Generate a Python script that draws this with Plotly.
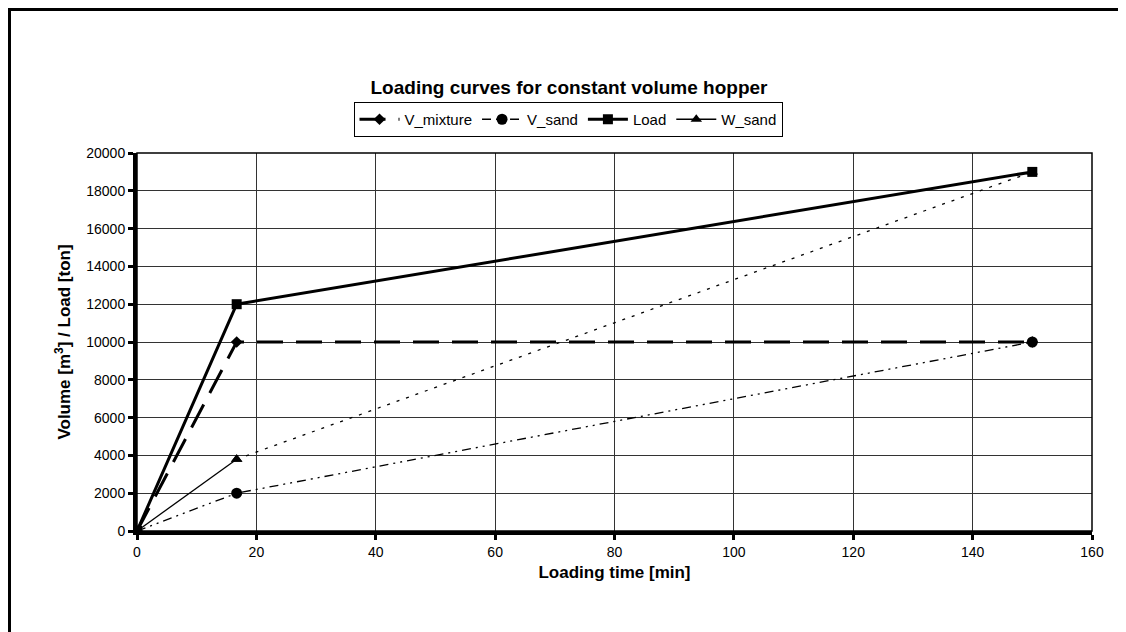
import plotly.graph_objects as go

# ---- data ----
time_min = [0, 16.7, 150]
v_mixture = [0, 10000, 10000]
v_sand = [0, 2000, 10000]
load = [0, 12000, 19000]
w_sand = [0, 3800, 19000]

x_ticks = [0, 20, 40, 60, 80, 100, 120, 140, 160]
y_ticks = [0, 2000, 4000, 6000, 8000, 10000, 12000, 14000, 16000, 18000, 20000]

FONT = "Liberation Sans, Arial, sans-serif"
W, H = 1126, 632
OFF = 8  # page body margin
L, R, T, B = 137 - OFF, 34 + OFF, 153 - OFF, 101 + OFF
pw, ph = W - L - R, H - T - B

fig = go.Figure()

fig.add_trace(go.Scatter(
    x=time_min, y=v_mixture, name="V_mixture", mode="lines+markers",
    line=dict(color="black", width=3, dash="26px,13px"),
    marker=dict(symbol="diamond", size=9, color="black"),
))
fig.add_trace(go.Scatter(
    x=time_min, y=v_sand, name="V_sand", mode="lines+markers",
    line=dict(color="black", width=1.3, dash="9px,5px,2px,5px,2px,5px"),
    marker=dict(symbol="circle", size=11, color="black"),
))
fig.add_trace(go.Scatter(
    x=time_min, y=load, name="Load", mode="lines+markers",
    line=dict(color="black", width=3),
    marker=dict(symbol="square", size=10, color="black"),
))
fig.add_trace(go.Scatter(
    x=time_min[:2], y=w_sand[:2], name="W_sand", mode="lines+markers",
    line=dict(color="black", width=1.3),
    marker=dict(symbol="triangle-up", size=10, color="black"),
))
fig.add_trace(go.Scatter(
    x=time_min[1:], y=w_sand[1:], name="W_sand", mode="lines+markers",
    showlegend=False,
    line=dict(color="black", width=1.3, dash="3px,7px"),
    marker=dict(symbol="triangle-up", size=10, color="black"),
))

fig.update_layout(
    width=W, height=H,
    margin=dict(l=L, r=R, t=T, b=B),
    paper_bgcolor="white", plot_bgcolor="white",
    font=dict(family=FONT, size=14, color="black"),
    title=dict(text="<b>Loading curves for constant volume hopper</b>",
               x=(569 - OFF) / W, xanchor="center", xref="container",
               y=1 - (87 - OFF) / H, yanchor="middle", yref="container",
               font=dict(family=FONT, size=19, color="black")),
    legend=dict(orientation="h", x=(568 - 137) / pw, xanchor="center",
                y=(531 - 102) / ph, yanchor="top",
                bordercolor="black", borderwidth=1, bgcolor="white",
                font=dict(family=FONT, size=15, color="black"),
                itemwidth=40, tracegroupgap=0),
    xaxis=dict(range=[0, 160], tickvals=x_ticks, ticktext=[str(v) for v in x_ticks],
               showgrid=True, gridcolor="#333333", gridwidth=1,
               zeroline=False, showline=True, linecolor="black", linewidth=4,
               ticks="outside", ticklen=5, tickwidth=3, tickcolor="black",
               tickfont=dict(size=14),
               title=dict(text="<b>Loading time [min]</b>", standoff=8,
                          font=dict(family=FONT, size=17))),
    yaxis=dict(range=[0, 20000], tickvals=y_ticks, ticktext=[str(v) for v in y_ticks],
               showgrid=True, gridcolor="#333333", gridwidth=1,
               zeroline=False, showline=True, linecolor="black", linewidth=4,
               ticks="outside", ticklen=5, tickwidth=3, tickcolor="black",
               tickfont=dict(size=14),
               title=dict(text="<b>Volume [m<sup>3</sup>] / Load [ton]</b>", standoff=12,
                          font=dict(family=FONT, size=17))),
    shapes=[
        dict(type="rect", xref="paper", yref="paper", x0=0, x1=1, y0=0, y1=1,
             line=dict(color="black", width=1.5), layer="above"),
        dict(type="rect", xref="paper", yref="paper",
             x0=(1.5 - L) / pw, x1=1.3, y0=-0.6, y1=(ph + T - 1.5) / ph,
             line=dict(color="black", width=3), layer="above"),
    ],
)

fig.write_html("out.html")
